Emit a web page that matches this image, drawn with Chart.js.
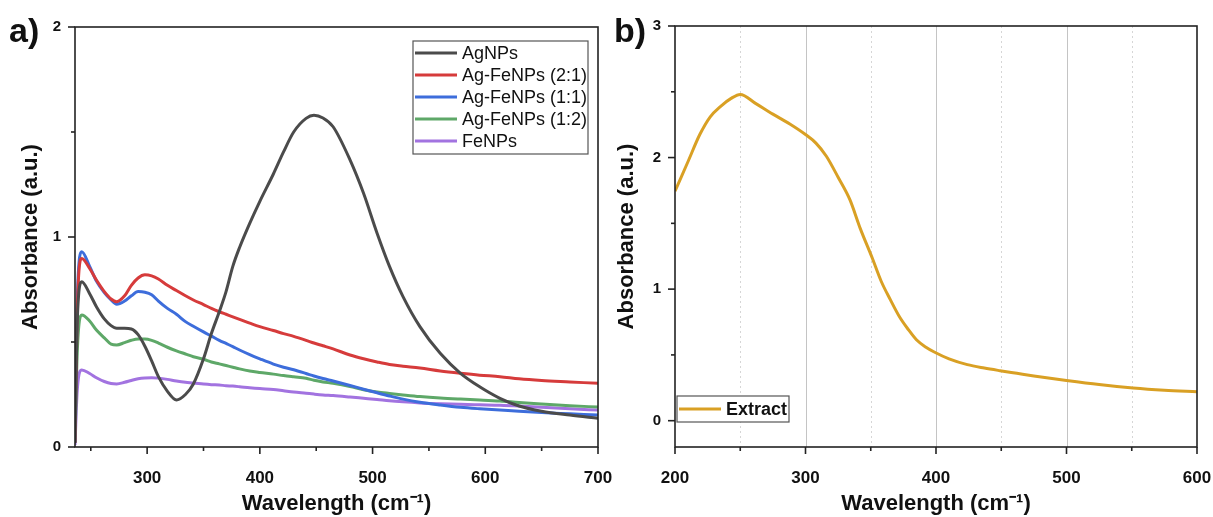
<!DOCTYPE html>
<html>
<head>
<meta charset="utf-8">
<script src="https://cdn.jsdelivr.net/npm/chart.js@4.4.1/dist/chart.umd.min.js"></script>
<style>
  html, body { margin: 0; padding: 0; background: #fff; }
  #wrap { position: relative; width: 1213px; height: 517px; overflow: hidden; }
  canvas { position: absolute; top: 0; }
  #chartA { left: 0; }
  #chartB { left: 600px; }
</style>
</head>
<body>
<div id="wrap">
  <canvas id="chartA" width="620" height="517"></canvas>
  <canvas id="chartB" width="613" height="517"></canvas>
</div>
<script>
// panel a) - UV-vis of the nanoparticles
const wavelengthA = [236, 238, 242, 249, 255, 262, 268, 273, 280, 286, 292, 298, 304, 310, 318,
  326, 334, 341, 350, 357, 364, 370, 376, 382, 391, 400, 412, 421, 430, 441, 448, 456, 465, 480,
  492, 504, 515, 527, 542, 560, 578, 595, 613, 630, 650, 675, 700];
const agNPs = [0.02, 0.60, 0.787, 0.73, 0.668, 0.61, 0.578, 0.565, 0.565, 0.562, 0.535, 0.48, 0.41, 0.335, 0.265,
  0.224, 0.25, 0.30, 0.42, 0.54, 0.644, 0.74, 0.86, 0.95, 1.065, 1.17, 1.30, 1.405, 1.50, 1.565, 1.58, 1.567, 1.525, 1.367,
  1.208, 1.018, 0.86, 0.716, 0.573, 0.446, 0.351, 0.287, 0.232, 0.195, 0.17, 0.152, 0.137];
const agFe21 = [0.02, 0.65, 0.898, 0.85, 0.795, 0.74, 0.705, 0.692, 0.72, 0.77, 0.805, 0.82, 0.815, 0.80, 0.77,
  0.745, 0.72, 0.70, 0.678, 0.66, 0.644, 0.632, 0.62, 0.608, 0.59, 0.573, 0.555, 0.54, 0.527, 0.508, 0.495, 0.482, 0.467, 0.438,
  0.42, 0.405, 0.393, 0.385, 0.376, 0.362, 0.351, 0.342, 0.335, 0.325, 0.317, 0.31, 0.303];
const agFe11 = [0.02, 0.70, 0.93, 0.86, 0.79, 0.735, 0.70, 0.68, 0.695, 0.72, 0.74, 0.737, 0.725, 0.695, 0.66,
  0.632, 0.597, 0.575, 0.548, 0.528, 0.508, 0.493, 0.478, 0.462, 0.44, 0.42, 0.395, 0.38, 0.368, 0.35, 0.338, 0.326, 0.314, 0.293,
  0.275, 0.258, 0.243, 0.228, 0.213, 0.2, 0.189, 0.182, 0.176, 0.17, 0.164, 0.158, 0.152];
const agFe12 = [0.02, 0.45, 0.629, 0.60, 0.557, 0.52, 0.49, 0.486, 0.497, 0.508, 0.514, 0.514, 0.508, 0.495, 0.475,
  0.458, 0.443, 0.43, 0.418, 0.405, 0.396, 0.388, 0.38, 0.372, 0.362, 0.355, 0.347, 0.34, 0.334, 0.327, 0.318, 0.31, 0.303, 0.288,
  0.273, 0.262, 0.255, 0.248, 0.24, 0.233, 0.228, 0.224, 0.219, 0.212, 0.205, 0.197, 0.19];
const feNPs = [0.01, 0.27, 0.367, 0.35, 0.33, 0.312, 0.302, 0.30, 0.308, 0.317, 0.325, 0.329, 0.33, 0.328, 0.322,
  0.314, 0.308, 0.305, 0.30, 0.297, 0.295, 0.292, 0.29, 0.287, 0.282, 0.278, 0.274, 0.268, 0.262, 0.256, 0.252, 0.248, 0.245, 0.238,
  0.232, 0.226, 0.22, 0.215, 0.21, 0.206, 0.203, 0.201, 0.199, 0.195, 0.189, 0.182, 0.176];
const labelsA = ["AgNPs", "Ag-FeNPs (2:1)", "Ag-FeNPs (1:1)", "Ag-FeNPs (1:2)", "FeNPs"];
const xTicksA = [300, 400, 500, 600, 700];
const xMinorA = [250, 350, 450, 550, 650];
const yTicksA = [0, 1, 2];
const yMinorA = [0.5, 1.5];

// panel b) - extract
const wavelengthB = [200, 210, 219, 227, 235, 243, 250, 262, 275, 288, 300, 308, 316, 325, 334, 342, 351, 358,
  365, 372, 379, 385, 392, 399, 410, 424, 437, 449, 462, 475, 500, 525, 551, 575, 600];
const extract = [1.744, 1.97, 2.175, 2.31, 2.39, 2.45, 2.48, 2.41, 2.33, 2.255, 2.175, 2.11, 2.01, 1.85, 1.68, 1.46, 1.24, 1.06,
  0.92, 0.79, 0.69, 0.615, 0.56, 0.52, 0.47, 0.426, 0.40, 0.38, 0.36, 0.34, 0.306, 0.275, 0.249, 0.232, 0.22];
const labelsB = ["Extract"];
const xTicksB = [200, 300, 400, 500, 600];
const xMinorB = [250, 350, 450, 550];
const yTicksB = [0, 1, 2, 3];
const yMinorB = [0.5, 1.5, 2.5];

const colorsA = ["#4b4b4b", "#d63b3b", "#3d6ddb", "#5ea868", "#a273e0"];
const colorB = "#d9a024";

const FONT = "'Liberation Sans', Arial, sans-serif";
Chart.defaults.font.family = FONT;
Chart.defaults.color = "#111";

const pts = (xs, ys) => xs.map((x, i) => ({ x: x, y: ys[i] }));

// frame, tick marks, grid, legend and panel letter
const framePlugin = {
  id: "frame",
  beforeDatasetsDraw(chart, args, o) {
    const { ctx, chartArea: a, scales: { x } } = chart;
    ctx.save();
    ctx.lineWidth = 1;
    (o.gridMajor || []).forEach((v) => {
      const px = Math.round(x.getPixelForValue(v)) + 0.5;
      ctx.strokeStyle = "#c4c4c4";
      ctx.setLineDash([]);
      ctx.beginPath(); ctx.moveTo(px, a.top); ctx.lineTo(px, a.bottom); ctx.stroke();
    });
    (o.gridMinor || []).forEach((v) => {
      const px = Math.round(x.getPixelForValue(v)) + 0.5;
      ctx.strokeStyle = "#d6d6d6";
      ctx.setLineDash([2, 3]);
      ctx.beginPath(); ctx.moveTo(px, a.top); ctx.lineTo(px, a.bottom); ctx.stroke();
    });
    ctx.restore();
  },
  afterDatasetsDraw(chart, args, o) {
    const { ctx, chartArea: a, scales: { x, y } } = chart;
    ctx.save();
    ctx.strokeStyle = "#222";
    ctx.lineWidth = 1.6;
    ctx.strokeRect(a.left, a.top, a.right - a.left, a.bottom - a.top);
    const tickX = (v, len) => {
      const px = x.getPixelForValue(v);
      ctx.beginPath(); ctx.moveTo(px, a.bottom); ctx.lineTo(px, a.bottom + len); ctx.stroke();
    };
    const tickY = (v, len) => {
      const py = y.getPixelForValue(v);
      ctx.beginPath(); ctx.moveTo(a.left, py); ctx.lineTo(a.left - len, py); ctx.stroke();
    };
    o.xMajor.forEach((v) => tickX(v, 7));
    o.xMinor.forEach((v) => tickX(v, 4));
    o.yMajor.forEach((v) => tickY(v, 7));
    o.yMinor.forEach((v) => tickY(v, 4));

    // legend box, entries in dataset index order
    const L = o.legend;
    ctx.fillStyle = "#fff";
    ctx.fillRect(L.x, L.y, L.w, L.h);
    ctx.lineWidth = 1.2;
    ctx.strokeStyle = "#555";
    ctx.strokeRect(L.x, L.y, L.w, L.h);
    ctx.font = L.font;
    ctx.textBaseline = "middle";
    ctx.fillStyle = "#111";
    chart.data.datasets.forEach((ds, i) => {
      const cy = L.y + L.first + i * L.row;
      ctx.strokeStyle = ds.borderColor;
      ctx.lineWidth = 3;
      ctx.beginPath(); ctx.moveTo(L.x + 2, cy); ctx.lineTo(L.x + 44, cy); ctx.stroke();
      ctx.fillText(ds.label, L.x + 49, cy + 1);
    });

    // panel letter
    ctx.font = "bold 34px " + FONT;
    ctx.textBaseline = "alphabetic";
    ctx.fillStyle = "#111";
    ctx.fillText(o.letter.text, o.letter.x, o.letter.y);
    ctx.restore();
  }
};

function makeScales(xmin, xmax, ymin, ymax, xt, yt, yTitlePad) {
  return {
    x: {
      type: "linear",
      min: xmin,
      max: xmax,
      grid: { display: false },
      border: { display: false },
      afterBuildTicks: (s) => { s.ticks = xt.map((v) => ({ value: v })); },
      afterFit: (s) => { s.height = 70; s.paddingLeft = 0; s.paddingRight = 0; },
      ticks: { padding: 13, font: { size: 17, weight: "bold" }, color: "#111", maxRotation: 0 },
      title: {
        display: true,
        text: "Wavelength (cm\u207B\u00B9)",
        font: { size: 22, weight: "bold" },
        color: "#111",
        padding: { top: 0, bottom: 0 }
      }
    },
    y: {
      type: "linear",
      min: ymin,
      max: ymax,
      grid: { display: false },
      border: { display: false },
      afterBuildTicks: (s) => { s.ticks = yt.map((v) => ({ value: v })); },
      afterFit: (s) => { s.width = 75; s.paddingTop = 0; s.paddingBottom = 0; },
      ticks: { padding: 6, font: { size: 15, weight: "bold" }, color: "#111",
        callback: (v) => String(v) },
      title: {
        display: true,
        text: "Absorbance (a.u.)",
        font: { size: 22, weight: "bold" },
        color: "#111",
        padding: { top: yTitlePad, bottom: 0 }
      }
    }
  };
}

new Chart(document.getElementById("chartA"), {
  type: "line",
  data: {
    datasets: [agNPs, agFe21, agFe11, agFe12, feNPs].map((vals, i) => ({
      label: labelsA[i],
      data: pts(wavelengthA, vals),
      borderColor: colorsA[i],
      backgroundColor: colorsA[i],
      borderWidth: 3,
      pointRadius: 0,
      order: i,
      cubicInterpolationMode: "monotone",
      fill: false
    }))
  },
  options: {
    responsive: false,
    animation: false,
    layout: { padding: { top: 27, right: 22, left: 0, bottom: 0 } },
    scales: makeScales(236, 700, 0, 2, xTicksA, yTicksA, 18),
    plugins: {
      legend: { display: false },
      tooltip: { enabled: false },
      frame: {
        xMajor: xTicksA, xMinor: xMinorA, yMajor: yTicksA, yMinor: yMinorA,
        legend: { x: 413, y: 41, w: 175, h: 113, first: 12, row: 22, font: "18px " + FONT },
        letter: { text: "a)", x: 9, y: 42 }
      }
    }
  },
  plugins: [framePlugin]
});

new Chart(document.getElementById("chartB"), {
  type: "line",
  data: {
    datasets: [{
      label: labelsB[0],
      data: pts(wavelengthB, extract),
      borderColor: colorB,
      backgroundColor: colorB,
      borderWidth: 3,
      pointRadius: 0,
      cubicInterpolationMode: "monotone",
      fill: false
    }]
  },
  options: {
    responsive: false,
    animation: false,
    layout: { padding: { top: 26, right: 16, left: 0, bottom: 0 } },
    scales: makeScales(200, 600, -0.2, 3, xTicksB, yTicksB, 14),
    plugins: {
      legend: { display: false },
      tooltip: { enabled: false },
      frame: {
        gridMajor: [300, 400, 500], gridMinor: xMinorB,
        xMajor: xTicksB, xMinor: xMinorB, yMajor: yTicksB, yMinor: yMinorB,
        legend: { x: 77, y: 396, w: 112, h: 26, first: 13, row: 22, font: "bold 18px " + FONT },
        letter: { text: "b)", x: 14, y: 42 }
      }
    }
  },
  plugins: [framePlugin]
});
</script>
</body>
</html>
